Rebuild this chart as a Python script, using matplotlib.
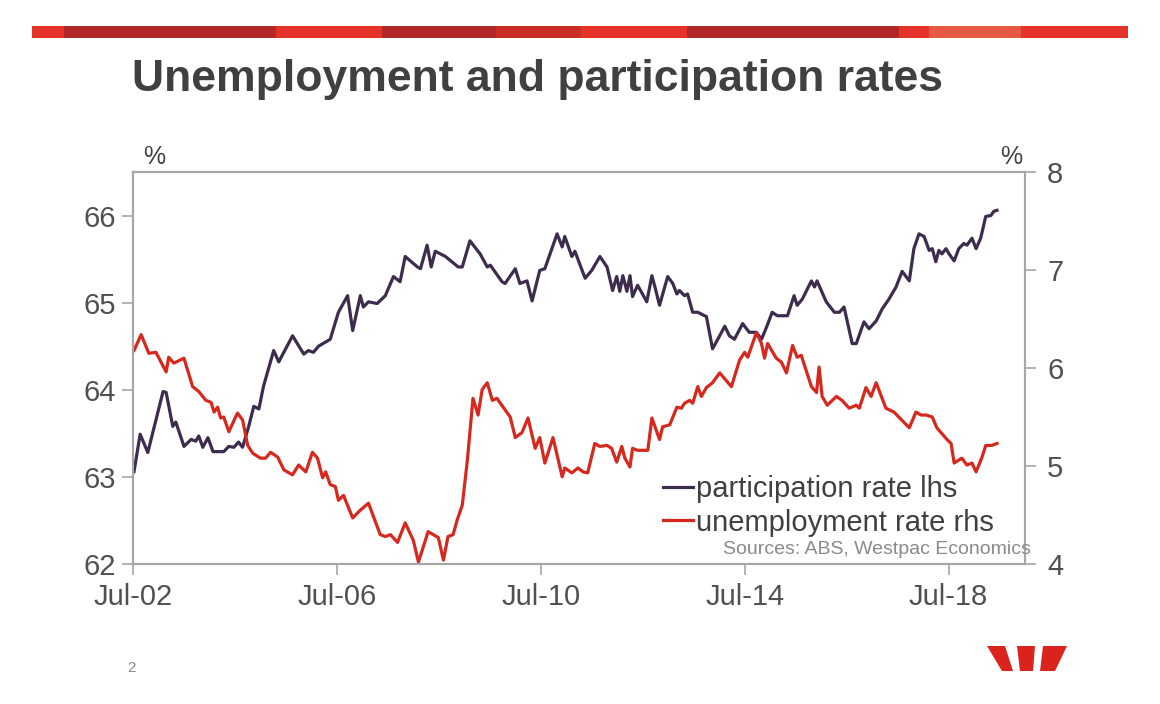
import matplotlib
matplotlib.use('Agg')
import matplotlib.pyplot as plt
from matplotlib.patches import Rectangle, Polygon
from matplotlib.lines import Line2D

plt.rcParams['font.family'] = ['Liberation Sans', 'DejaVu Sans']

# participation rate, % (lhs)
part_t = [2002.52, 2002.64, 2002.79, 2003.09, 2003.15, 2003.28, 2003.34, 2003.50, 2003.64, 2003.73,
          2003.79, 2003.87, 2003.97, 2004.07, 2004.28, 2004.38, 2004.48, 2004.57, 2004.65, 2004.77,
          2004.87, 2004.97, 2005.06, 2005.26, 2005.36, 2005.63, 2005.85, 2005.94, 2006.04, 2006.14,
          2006.37, 2006.53, 2006.71, 2006.81, 2006.96, 2007.02, 2007.12, 2007.29, 2007.45, 2007.61,
          2007.74, 2007.84, 2008.08, 2008.14, 2008.27, 2008.35, 2008.43, 2008.63, 2008.88, 2008.96,
          2009.11, 2009.31, 2009.45, 2009.51, 2009.74, 2009.80, 2010.00, 2010.09, 2010.23, 2010.33,
          2010.48, 2010.58, 2010.82, 2010.92, 2010.97, 2011.11, 2011.17, 2011.37, 2011.50, 2011.66,
          2011.80, 2011.91, 2011.99, 2012.05, 2012.11, 2012.19, 2012.25, 2012.30, 2012.40, 2012.58,
          2012.68, 2012.74, 2012.83, 2012.99, 2013.09, 2013.17, 2013.22, 2013.32, 2013.38, 2013.48,
          2013.58, 2013.75, 2013.87, 2014.01, 2014.11, 2014.20, 2014.30, 2014.46, 2014.59, 2014.73,
          2014.83, 2014.93, 2015.04, 2015.14, 2015.34, 2015.47, 2015.53, 2015.63, 2015.81, 2015.87,
          2015.92, 2016.10, 2016.26, 2016.36, 2016.45, 2016.61, 2016.69, 2016.84, 2016.94, 2017.08,
          2017.20, 2017.33, 2017.47, 2017.59, 2017.73, 2017.82, 2017.92, 2018.02, 2018.12, 2018.18,
          2018.25, 2018.31, 2018.37, 2018.45, 2018.51, 2018.61, 2018.70, 2018.80, 2018.86, 2018.96,
          2019.04, 2019.13, 2019.23, 2019.33, 2019.39, 2019.45]
part_v = [63.06, 63.49, 63.28, 63.98, 63.97, 63.58, 63.63, 63.35, 63.43, 63.41,
          63.47, 63.34, 63.45, 63.29, 63.29, 63.35, 63.34, 63.40, 63.34, 63.58,
          63.81, 63.78, 64.04, 64.45, 64.32, 64.62, 64.41, 64.45, 64.43, 64.50,
          64.58, 64.89, 65.08, 64.68, 65.08, 64.95, 65.01, 64.99, 65.08, 65.30,
          65.24, 65.53, 65.41, 65.39, 65.66, 65.41, 65.59, 65.53, 65.41, 65.41,
          65.71, 65.56, 65.41, 65.43, 65.24, 65.22, 65.39, 65.22, 65.25, 65.02,
          65.37, 65.39, 65.79, 65.64, 65.76, 65.53, 65.59, 65.28, 65.37, 65.53,
          65.41, 65.14, 65.30, 65.13, 65.31, 65.13, 65.31, 65.07, 65.20, 65.01,
          65.31, 65.18, 64.97, 65.30, 65.22, 65.10, 65.14, 65.08, 65.10, 64.89,
          64.89, 64.84, 64.47, 64.62, 64.73, 64.62, 64.58, 64.76, 64.66, 64.66,
          64.58, 64.72, 64.89, 64.85, 64.85, 65.08, 64.97, 65.04, 65.25, 65.18,
          65.25, 65.01, 64.89, 64.89, 64.95, 64.53, 64.53, 64.78, 64.70, 64.79,
          64.93, 65.04, 65.18, 65.36, 65.25, 65.62, 65.79, 65.76, 65.60, 65.62,
          65.47, 65.60, 65.56, 65.62, 65.56, 65.48, 65.62, 65.68, 65.66, 65.74,
          65.62, 65.74, 65.99, 66.00, 66.05, 66.06]

# unemployment rate, % (rhs)
unemp_t = [2002.52, 2002.66, 2002.81, 2002.95, 2003.15, 2003.20, 2003.30, 2003.50, 2003.67, 2003.79,
           2003.93, 2004.03, 2004.09, 2004.16, 2004.22, 2004.28, 2004.38, 2004.55, 2004.65, 2004.75,
           2004.85, 2005.00, 2005.10, 2005.20, 2005.34, 2005.46, 2005.63, 2005.75, 2005.89, 2006.02,
           2006.12, 2006.22, 2006.28, 2006.37, 2006.47, 2006.53, 2006.63, 2006.81, 2006.96, 2007.12,
           2007.35, 2007.45, 2007.55, 2007.69, 2007.84, 2008.00, 2008.10, 2008.29, 2008.49, 2008.59,
           2008.68, 2008.78, 2008.86, 2008.96, 2009.06, 2009.17, 2009.27, 2009.35, 2009.45, 2009.55,
           2009.64, 2009.90, 2010.00, 2010.13, 2010.25, 2010.39, 2010.48, 2010.58, 2010.74, 2010.92,
           2010.97, 2011.11, 2011.23, 2011.33, 2011.42, 2011.56, 2011.66, 2011.80, 2011.89, 2011.99,
           2012.09, 2012.15, 2012.25, 2012.30, 2012.40, 2012.60, 2012.68, 2012.83, 2012.89, 2013.03,
           2013.17, 2013.26, 2013.32, 2013.42, 2013.48, 2013.58, 2013.65, 2013.75, 2013.87, 2014.01,
           2014.24, 2014.40, 2014.50, 2014.56, 2014.73, 2014.83, 2014.89, 2014.95, 2015.12, 2015.22,
           2015.32, 2015.44, 2015.53, 2015.61, 2015.81, 2015.91, 2015.96, 2016.02, 2016.12, 2016.30,
           2016.41, 2016.55, 2016.69, 2016.75, 2016.88, 2016.98, 2017.08, 2017.27, 2017.43, 2017.73,
           2017.86, 2017.96, 2018.06, 2018.18, 2018.27, 2018.47, 2018.55, 2018.61, 2018.76, 2018.86,
           2018.96, 2019.04, 2019.15, 2019.23, 2019.35, 2019.45]
unemp_v = [6.18, 6.34, 6.15, 6.16, 5.96, 6.11, 6.05, 6.10, 5.81, 5.76,
           5.67, 5.65, 5.55, 5.60, 5.49, 5.50, 5.35, 5.54, 5.47, 5.21,
           5.13, 5.08, 5.08, 5.14, 5.09, 4.96, 4.91, 5.01, 4.94, 5.14,
           5.08, 4.88, 4.94, 4.81, 4.79, 4.65, 4.70, 4.47, 4.55, 4.62,
           4.30, 4.28, 4.30, 4.22, 4.42, 4.24, 4.02, 4.33, 4.27, 4.04,
           4.28, 4.30, 4.45, 4.60, 5.06, 5.69, 5.52, 5.78, 5.85, 5.67,
           5.69, 5.50, 5.29, 5.34, 5.49, 5.18, 5.29, 5.03, 5.29, 4.89,
           4.98, 4.93, 4.98, 4.94, 4.93, 5.23, 5.20, 5.21, 5.18, 5.04,
           5.20, 5.08, 4.99, 5.18, 5.16, 5.16, 5.49, 5.27, 5.40, 5.42,
           5.60, 5.59, 5.64, 5.67, 5.64, 5.81, 5.71, 5.80, 5.85, 5.95,
           5.81, 6.08, 6.16, 6.11, 6.36, 6.25, 6.10, 6.25, 6.10, 6.06,
           5.95, 6.23, 6.11, 6.13, 5.81, 5.75, 6.01, 5.71, 5.62, 5.71,
           5.67, 5.59, 5.62, 5.59, 5.80, 5.71, 5.85, 5.59, 5.55, 5.39,
           5.55, 5.52, 5.52, 5.50, 5.39, 5.27, 5.23, 5.03, 5.08, 5.01,
           5.03, 4.94, 5.08, 5.21, 5.21, 5.23]

tick_years = [2002, 2006, 2010, 2014, 2018]
tick_labels = ['Jul-02', 'Jul-06', 'Jul-10', 'Jul-14', 'Jul-18']

W, H = 1160, 704
fig = plt.figure(figsize=(W / 100, H / 100), dpi=100)


def fx(x):
    return x / W


def fy(y):
    return 1 - y / H


# banner across the top
banner = [(32, 64, '#e5332a'), (64, 276, '#b3282a'), (276, 382, '#e5332a'),
          (382, 496, '#b3282a'), (496, 581, '#c92d26'), (581, 687, '#e5332a'),
          (687, 899, '#b3282a'), (899, 929, '#e5332a'), (929, 1021, '#e65a45'),
          (1021, 1128, '#e5332a')]
for x0, x1, c in banner:
    fig.add_artist(Rectangle((fx(x0), fy(38)), fx(x1) - fx(x0), 12 / H,
                             transform=fig.transFigure, color=c, lw=0))

fig.text(fx(132), fy(79), 'Unemployment and participation rates', fontsize=32,
         weight='bold', color='#404040', va='center', ha='left')

ax1 = fig.add_axes([fx(133), fy(564), 892 / W, 392 / H])
ax2 = ax1.twinx()

purple = '#3d2c4e'
red = '#d6281d'
grey = '#a6a6a6'

ax1.plot(part_t, part_v, color=purple, lw=2.3)
ax2.plot(unemp_t, unemp_v, color=red, lw=2.3)

ax1.set_xlim(2002.5, 2020.0)
ax1.set_ylim(62, 66.5)
ax2.set_ylim(4, 8)
ax1.set_yticks([62, 63, 64, 65, 66])
ax2.set_yticks([4, 5, 6, 7, 8])
ax1.set_xticks([y + 0.5 for y in tick_years])
ax1.set_xticklabels(tick_labels)

for ax in (ax1, ax2):
    for s in ax.spines.values():
        s.set_color(grey)
        s.set_linewidth(1.5)
ax1.tick_params(axis='x', direction='out', length=8, width=1.2, color=grey,
                labelsize=21, labelcolor='#505050', pad=6)
ax1.tick_params(axis='y', direction='out', length=8, width=1.2, color=grey,
                labelsize=21, labelcolor='#505050', pad=4)
ax2.tick_params(axis='y', direction='out', length=8, width=1.2, color=grey,
                labelsize=21, labelcolor='#505050', pad=8)

handles = [Line2D([], [], color=purple, lw=2.3), Line2D([], [], color=red, lw=2.3)]
ax2.legend(handles, ['participation rate lhs', 'unemployment rate rhs'],
           loc='lower left', bbox_to_anchor=(0.594, 0.07), frameon=False,
           fontsize=21, handlelength=1.05, handletextpad=0.1, labelspacing=0.2,
           borderpad=0, borderaxespad=0, labelcolor='#404040')

fig.text(fx(1031), fy(549), 'Sources: ABS, Westpac Economics', fontsize=14,
         color='#8a8a8a', ha='right', va='center')
fig.text(fx(154), fy(157), '%', fontsize=18, color='#404040', ha='center', va='center')
fig.text(fx(1011), fy(157), '%', fontsize=18, color='#404040', ha='center', va='center')
fig.text(fx(131), fy(668), '2', fontsize=11, color='#8a8a8a', ha='center', va='center')

# logo
logo = [[(987, 646), (1005, 646), (1013, 671), (1002, 671)],
        [(1017, 646), (1035, 646), (1033, 671), (1020, 671)],
        [(1043, 646), (1067, 646), (1055, 671), (1040, 671)]]
for pts in logo:
    fig.add_artist(Polygon([(fx(x), fy(y)) for x, y in pts], closed=True,
                           transform=fig.transFigure, color='#d9231c', lw=0))

fig.savefig('out.png', dpi=100)
